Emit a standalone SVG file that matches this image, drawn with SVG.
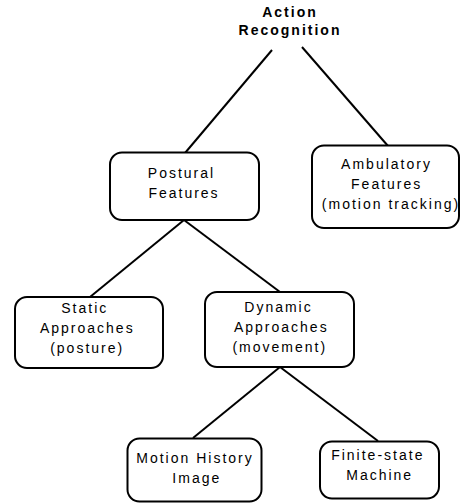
<svg xmlns="http://www.w3.org/2000/svg" width="460" height="503" viewBox="0 0 460 503">
<style>
.box{fill:#fff;stroke:#000;stroke-width:2}
.t{font-family:"Liberation Sans",Arial,sans-serif;font-size:14px;letter-spacing:2px;text-anchor:middle;fill:#000}
.b{font-weight:bold}
#connectors line{stroke:#000;stroke-width:2}
</style>
<rect width="460" height="503" fill="#fff"/>
<g id="connectors">
<line x1="272" y1="50" x2="185" y2="153"/>
<line x1="302" y1="47" x2="388" y2="146"/>
<line x1="184" y1="220" x2="90" y2="297"/>
<line x1="184" y1="220" x2="280" y2="292"/>
<line x1="280" y1="367" x2="193" y2="438"/>
<line x1="280" y1="367" x2="378" y2="441"/>
</g>
<g id="action">
<text class="t b" x="290" y="16.5">Action</text>
<text class="t b" x="290" y="35">Recognition</text>
</g>
<g id="postural">
<rect class="box" x="110" y="152.5" width="149" height="67.5" rx="12"/>
<text class="t" x="181.5" y="178.3">Postural</text>
<text class="t" x="184" y="198.3">Features</text>
</g>
<g id="ambulatory">
<rect class="box" x="312" y="145.5" width="147" height="82.5" rx="12"/>
<text class="t" x="386.5" y="169">Ambulatory</text>
<text class="t" x="386.7" y="189">Features</text>
<text class="t" x="391" y="208.5">(motion tracking)</text>
</g>
<g id="static">
<rect class="box" x="15" y="297" width="148" height="71" rx="12"/>
<text class="t" x="84.8" y="312.7">Static</text>
<text class="t" x="87.3" y="332.7">Approaches</text>
<text class="t" x="87.2" y="352.5">(posture)</text>
</g>
<g id="dynamic">
<rect class="box" x="205" y="292" width="149" height="75" rx="12"/>
<text class="t" x="278.5" y="311.7">Dynamic</text>
<text class="t" x="281.3" y="331.7">Approaches</text>
<text class="t" x="279.8" y="351.7">(movement)</text>
</g>
<g id="mhi">
<rect class="box" x="127.5" y="438.5" width="134" height="63" rx="12"/>
<text class="t" x="195" y="462.7">Motion History</text>
<text class="t" x="196.8" y="482.6">Image</text>
</g>
<g id="fsm">
<rect class="box" x="320" y="441.5" width="119" height="57" rx="12"/>
<text class="t" x="377.8" y="460">Finite-state</text>
<text class="t" x="379.7" y="480">Machine</text>
</g>
</svg>
